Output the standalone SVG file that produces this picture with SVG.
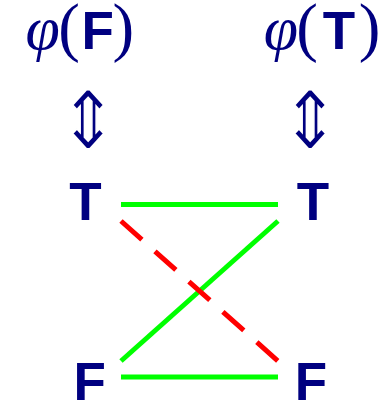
<svg xmlns="http://www.w3.org/2000/svg" width="390" height="402" viewBox="0 0 390 402">
<style>
.lbl{font-family:"Liberation Sans",Arial,sans-serif;font-weight:bold;fill:#000080;font-size:53px;text-anchor:middle}
.phi{font-family:"Liberation Serif","Times New Roman",serif;font-style:italic;fill:#000080;font-size:62px;text-anchor:middle}
.par{font-family:"Liberation Serif","Times New Roman",serif;fill:#000080;font-size:65px;text-anchor:middle}
.arr{font-family:"DejaVu Sans",sans-serif;fill:#000080;font-size:80px;text-anchor:middle;stroke:#ffffff;stroke-width:1.6}
.ok{stroke:#00ff00;stroke-width:5;fill:none}
.bad{stroke:#ff0000;stroke-width:5;fill:none;stroke-dasharray:28 17.5}
</style>
<g id="phiF">
<text class="phi" x="42.7" y="49.3">φ</text>
<text class="par" x="69.2" y="49.3">(</text>
<text class="lbl" x="97.8" y="49.3">F</text>
<text class="par" x="123.3" y="49.3">)</text>
</g>
<g id="phiT">
<text class="phi" x="281" y="49.3">φ</text>
<text class="par" x="307.2" y="49.3">(</text>
<text class="lbl" x="339" y="49.3">T</text>
<text class="par" x="369.7" y="49.3">)</text>
</g>
<g id="eqL"><text class="arr" transform="translate(88 148) scale(0.9 1)" x="0" y="0">⇕</text></g>
<g id="eqR"><text class="arr" transform="translate(310 148) scale(0.9 1)" x="0" y="0">⇕</text></g>
<g id="TL"><text class="lbl" x="85.4" y="220">T</text></g>
<g id="TR"><text class="lbl" x="313" y="220">T</text></g>
<g id="FL"><text class="lbl" x="89.7" y="400">F</text></g>
<g id="FR"><text class="lbl" x="311" y="400">F</text></g>
<g id="connectors">
<line class="ok" x1="121" y1="204.5" x2="278" y2="204.5"/>
<line class="ok" x1="121" y1="377" x2="278" y2="377"/>
<line class="ok" x1="121" y1="361" x2="278" y2="221"/>
<line class="bad" x1="121" y1="221" x2="278" y2="361"/>
</g>
</svg>
